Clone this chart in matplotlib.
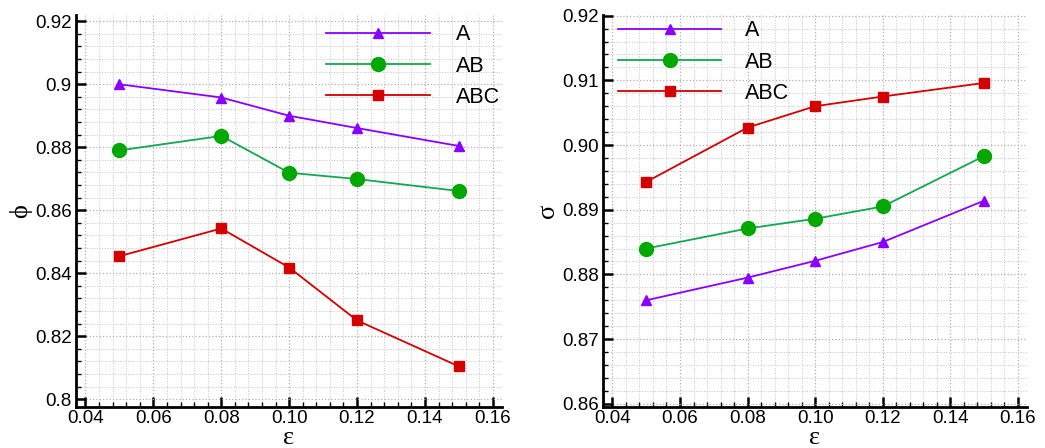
import matplotlib
matplotlib.use("Agg")
import matplotlib.pyplot as plt
from matplotlib.ticker import MultipleLocator, FormatStrFormatter, FuncFormatter

plt.rcParams["font.family"] = ["Liberation Sans", "DejaVu Sans"]

# données
eps = [0.05, 0.08, 0.10, 0.12, 0.15]
series = ["A", "AB", "ABC"]

phi_A = [0.9000, 0.8958, 0.8900, 0.8861, 0.8804]
phi_AB = [0.8790, 0.8836, 0.8719, 0.8699, 0.8661]
phi_ABC = [0.8454, 0.8542, 0.8418, 0.8250, 0.8104]

sigma_A = [0.8760, 0.8795, 0.8821, 0.8850, 0.8914]
sigma_AB = [0.8840, 0.8871, 0.8886, 0.8905, 0.8983]
sigma_ABC = [0.8943, 0.9027, 0.9060, 0.9075, 0.9096]

x_ticks = [0.04, 0.06, 0.08, 0.10, 0.12, 0.14, 0.16]

# styles
violet = "#8a00ff"
vert_ligne = "#10a850"
vert_marq = "#00a800"
rouge = "#d40000"

styles = {
    "A": dict(color=violet, marker="^", markersize=7.5, mfc=violet, mec=violet),
    "AB": dict(color=vert_ligne, marker="o", markersize=10, mfc=vert_marq, mec=vert_marq),
    "ABC": dict(color=rouge, marker="s", markersize=7, mfc=rouge, mec=rouge),
}

fig = plt.figure(figsize=(10.45, 4.48), dpi=100)
ax1 = fig.add_axes([0.0727, 0.0915, 0.4077, 0.875])
ax2 = fig.add_axes([0.577, 0.0915, 0.4058, 0.875])


def habiller(ax, ymin, ymax, ymaj, ymin_step, yfmt, ylabel):
    ax.set_xlim(0.0372, 0.1627)
    ax.set_ylim(ymin, ymax)
    ax.set_xticks(x_ticks)
    ax.xaxis.set_major_formatter(FormatStrFormatter("%.2f"))
    ax.xaxis.set_minor_locator(MultipleLocator(0.004))
    ax.yaxis.set_major_locator(MultipleLocator(ymaj))
    ax.yaxis.set_minor_locator(MultipleLocator(ymin_step))
    ax.yaxis.set_major_formatter(yfmt)
    ax.grid(which="major", color="#b0b0b0", linestyle=":", linewidth=0.9)
    ax.grid(which="minor", color="#c4c4c4", linestyle=":", linewidth=0.7)
    ax.set_axisbelow(True)
    for s in ["top", "right"]:
        ax.spines[s].set_visible(False)
    for s in ["left", "bottom"]:
        ax.spines[s].set_linewidth(2)
    ax.tick_params(which="major", direction="in", length=7, width=1.8, labelsize=13.5)
    ax.tick_params(axis="x", which="major", pad=2)
    ax.tick_params(axis="y", which="major", pad=3)
    ax.tick_params(which="minor", direction="in", length=3.5, width=1.0)
    ax.set_xlabel("ε", family=["Liberation Serif", "DejaVu Serif"], fontsize=19, labelpad=0)
    ax.set_ylabel(ylabel, family=["Liberation Serif", "DejaVu Serif"], fontsize=19, labelpad=2)


# panneau gauche : phi
for nom, vals in zip(series, [phi_A, phi_AB, phi_ABC]):
    ax1.plot(eps, vals, label=nom, linewidth=1.3, **styles[nom])
habiller(ax1, 0.7975, 0.922, 0.02, 0.004,
         FuncFormatter(lambda v, p: f"{v:g}"), "ϕ")
ax1.legend(loc="upper right", bbox_to_anchor=(1.03, 1.015), frameon=False, fontsize=15.5,
           handlelength=4.8, handletextpad=1.2, labelspacing=0.48, borderaxespad=0.3)

# panneau droit : sigma
for nom, vals in zip(series, [sigma_A, sigma_AB, sigma_ABC]):
    ax2.plot(eps, vals, label=nom, linewidth=1.3, **styles[nom])
habiller(ax2, 0.8595, 0.9201, 0.01, 0.002, FormatStrFormatter("%.2f"), "σ")
ax2.legend(loc="upper left", bbox_to_anchor=(0.0, 1.025), frameon=False, fontsize=15.5,
           handlelength=4.8, handletextpad=1.1, labelspacing=0.48, borderaxespad=0.3)

plt.savefig("out.png", dpi=100)
